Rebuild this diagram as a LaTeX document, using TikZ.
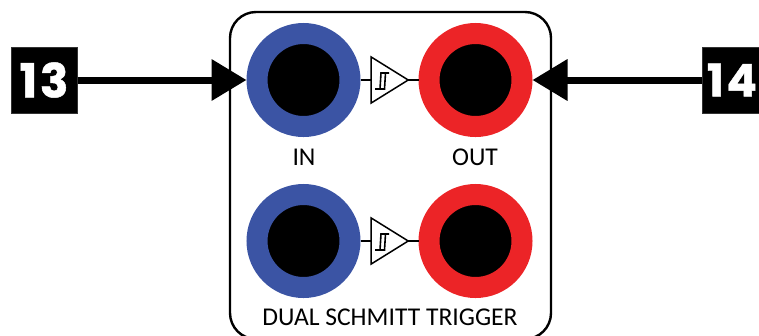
\documentclass[tikz,border=0pt]{standalone}
\usepackage{fontspec}
\setmainfont{Carlito}
\newfontfamily\pinfont[LetterSpace=6,BoldFeatures={FakeBold=1}]{Poppins}
\usetikzlibrary{shapes,arrows,positioning}
\usetikzlibrary{arrows.meta}

\definecolor{jackblue}{HTML}{3B54A4}
\definecolor{jackred}{HTML}{EC2427}

\tikzset{
    jack/.style={circle, fill=black, line width=21pt, minimum size=93pt, inner sep=0pt},
    gate/.style={isosceles triangle, isosceles triangle stretches, draw=black, line width=1.5pt,
        minimum width=46pt, minimum height=37pt, inner sep=0pt, outer sep=0pt, fill=white},
    pinbox/.style={fill=black, draw=black!80, line width=1pt, minimum size=66pt, inner sep=0pt,
        text=white, font=\pinfont\bfseries\fontsize{47}{47}\selectfont},
    pinarrow/.style={line width=7pt, -{Triangle[length=35pt,width=40pt]}},
    lbl/.style={inner sep=0pt, font=\fontsize{25.6}{26}\selectfont}
}

\begin{document}
\begin{tikzpicture}[x=1pt,y=-1pt]
\useasboundingbox (0,0) rectangle (759,335);

% Outer panel, its bottom edge runs off the page
\draw[line width=2.4pt, rounded corners=26pt] (230,12) rectangle (551,339);

% Draw the two channels
\foreach \n/\y in {A/80,B/241} {
    \node[jack, draw=jackblue] (in\n) at (303.5,\y) {};
    \node[jack, draw=jackred] (out\n) at (475.5,\y) {};
    \node[gate] (gate\n) at (384,\y) {};
    \draw[line width=1.5pt] (in\n) -- (gate\n.west |- in\n);
    \draw[line width=1.5pt] (gate\n.apex) -- (out\n);
    % Hysteresis symbol
    \draw[line width=1.6pt] (375,\y+9) -- (380,\y+9) -- (381,\y-7) -- (389,\y-7);
    \draw[line width=1.6pt] (377,\y+9) -- (384.5,\y+9) -- (385.5,\y-7);
}

% Pin boxes and arrows
\node[pinbox] (pin13) at (44,80) {13};
\node[pinbox, minimum width=60pt, font=\pinfont\bfseries\fontsize{45}{45}\selectfont] (pin14) at (732,80) {14};
\draw[pinarrow] (pin13) -- (inA);
\draw[pinarrow] (pin14) -- (outA);

% Labels
\node[lbl] (labelIn) at (304,157) {IN};
\node[lbl] (labelOut) at (475,157) {OUT};
\node[lbl] (labelName) at (390,317) {DUAL SCHMITT TRIGGER};

\end{tikzpicture}
\end{document}
